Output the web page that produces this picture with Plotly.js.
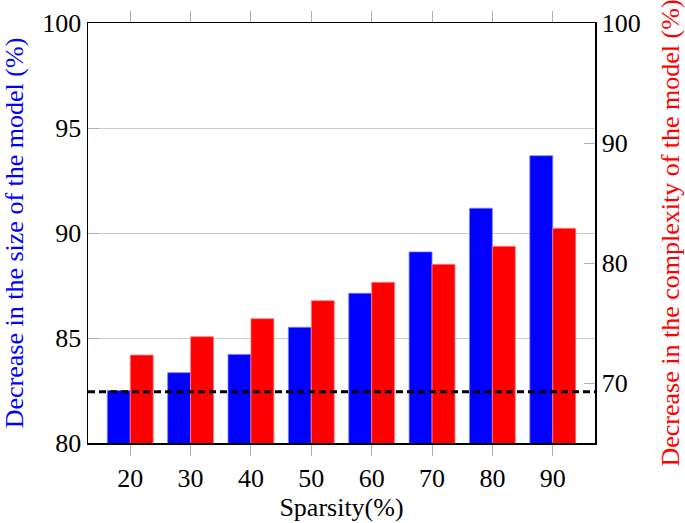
<!DOCTYPE html>
<html>
<head>
<meta charset="utf-8">
<script src="https://cdn.plot.ly/plotly-3.0.1.min.js"></script>
<style>html,body{margin:0;padding:0;background:#fff;}#chart{width:685px;height:523px;}</style>
</head>
<body>
<div id="chart"></div>
<script>
const sparsity = [20, 30, 40, 50, 60, 70, 80, 90];
const sizeDecrease = [82.5, 83.35, 84.22, 85.51, 87.13, 89.10, 91.18, 93.68];
const complexityDecrease = [72.33, 73.86, 75.36, 76.86, 78.39, 79.89, 81.39, 82.89];
const baselineSize = 82.44;
const leftTicks = [80, 85, 90, 95, 100];
const rightTicks = [70, 80, 90, 100];

const serif = "'Liberation Serif', 'Times New Roman', serif";

const traces = [
  {
    type: 'bar', x: sparsity, y: sizeDecrease, name: 'Size',
    marker: {color: '#0000ff', line: {color: '#7f7fff', width: 0.8}},
    offsetgroup: 'a', yaxis: 'y', showlegend: false, hoverinfo: 'x+y'
  },
  {
    type: 'bar', x: sparsity, y: complexityDecrease, name: 'Complexity',
    marker: {color: '#ff0000', line: {color: '#ff8080', width: 0.8}},
    offsetgroup: 'b', yaxis: 'y2', showlegend: false, hoverinfo: 'x+y'
  }
];

const layout = {
  width: 685, height: 523,
  margin: {l: 88, r: 90, t: 23, b: 80},
  paper_bgcolor: '#fff', plot_bgcolor: '#fff',
  barmode: 'group', bargap: 0.24, bargroupgap: 0,
  font: {family: serif, size: 26, color: '#000'},
  xaxis: {
    range: [13, 97], tickvals: sparsity, ticktext: sparsity.map(String),
    ticks: 'outside', ticklen: 11, tickcolor: '#b0b0b0', tickwidth: 1,
    showline: true, linecolor: '#000', linewidth: 1.5, mirror: 'ticks',
    showgrid: false, zeroline: false,
    tickfont: {family: serif, size: 26, color: '#000'},
    title: {text: 'Sparsity(%)', font: {family: serif, size: 26, color: '#000'}, standoff: 6}
  },
  yaxis: {
    range: [80, 100], tickvals: leftTicks, ticktext: leftTicks.map(String),
    ticks: 'inside', ticklen: 11, tickcolor: '#b0b0b0',
    showline: true, linecolor: '#000', linewidth: 1.5, mirror: true,
    showgrid: true, gridcolor: '#cccccc', gridwidth: 1, zeroline: false,
    tickfont: {family: serif, size: 26, color: '#000'},
    title: {text: 'Decrease in the size of the model (%)', font: {family: serif, size: 26, color: '#0000ff'}, standoff: 13}
  },
  yaxis2: {
    overlaying: 'y', side: 'right',
    range: [65, 100], tickvals: rightTicks, ticktext: rightTicks.map(String),
    ticks: 'inside', ticklen: 11, tickcolor: '#b0b0b0',
    showline: true, linecolor: '#000', linewidth: 1.5,
    showgrid: false, zeroline: false,
    tickfont: {family: serif, size: 26, color: '#000'},
    title: {text: 'Decrease in the complexity of the model (%)', font: {family: serif, size: 26, color: '#ff0000'}, standoff: 22}
  },
  shapes: [{
    type: 'line', xref: 'paper', x0: 0, x1: 1, yref: 'y', y0: baselineSize, y1: baselineSize,
    line: {color: '#000', width: 3, dash: '7px,4px'}, layer: 'above'
  }]
};

Plotly.newPlot('chart', traces, layout, {displayModeBar: false, staticPlot: true});
</script>
</body>
</html>
